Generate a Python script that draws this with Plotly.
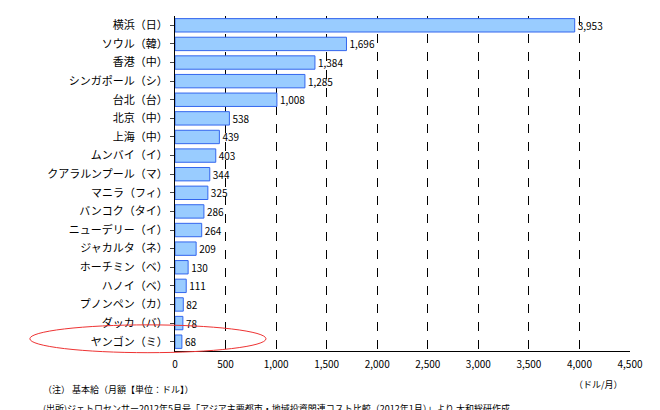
import plotly.graph_objects as go

cities = ["横浜（日）","ソウル（韓）","香港（中）","シンガポール（シ）","台北（台）","北京（中）","上海（中）",
          "ムンバイ（イ）","クアラルンプール（マ）","マニラ（フィ）","バンコク（タイ）","ニューデリー（イ）",
          "ジャカルタ（ネ）","ホーチミン（ベ）","ハノイ（ベ）","プノンペン（カ）","ダッカ（バ）","ヤンゴン（ミ）"]
wages = [3953,1696,1384,1285,1008,538,439,403,344,325,286,264,209,130,111,82,78,68]
xticks = [0,500,1000,1500,2000,2500,3000,3500,4000,4500]
xticklabels = ["0","500","1,000","1,500","2,000","2,500","3,000","3,500","4,000","4,500"]

F = "Noto Sans CJK JP"
fig = go.Figure(go.Bar(
    y=cities, x=wages, orientation="h",
    marker=dict(color="#99ccff", line=dict(color="#3366ee", width=1)),
    width=0.72,
    text=[f"{v:,}" for v in wages], textposition="outside", constraintext="none",
    textfont=dict(size=10, color="black", family=F), cliponaxis=False,
))
fig.update_layout(
    width=660, height=410, margin=dict(l=167, r=38, t=8, b=67),
    plot_bgcolor="white", paper_bgcolor="white", showlegend=False,
    font=dict(family=F, size=11, color="black"),
    xaxis=dict(range=[0,4500], tickvals=xticks, ticktext=xticklabels, showgrid=True, automargin=False,
               gridcolor="black", griddash="dash", gridwidth=1, showline=True, linecolor="black",
               tickfont=dict(size=10), zeroline=False, ticks="", ticklabelstandoff=4),
    yaxis=dict(autorange="reversed", showline=True, linecolor="black", ticks="outside", automargin=False,
               ticklen=4, tickfont=dict(size=11)),
)
fig.add_shape(type="circle", xref="paper", yref="paper", x0=-0.319, x1=0.2, y0=-0.005, y1=0.078,
              line=dict(color="#ee3333", width=1))
fig.add_annotation(xref="paper", yref="paper", x=0.93, y=-0.075, text="（ドル/月）", showarrow=False,
                   font=dict(size=9), xanchor="center", yanchor="top")
fig.add_annotation(xref="paper", yref="paper", x=-0.295, y=-0.09, text="（注） 基本給（月額【単位：ドル】）",
                   showarrow=False, font=dict(size=9), xanchor="left", yanchor="top")
fig.add_annotation(xref="paper", yref="paper", x=-0.295, y=-0.145,
                   text="(出所)ジェトロセンサー2012年5月号「アジア主要都市・地域投資関連コスト比較（2012年1月）」より 大和総研作成",
                   showarrow=False, font=dict(size=9), xanchor="left", yanchor="top")
fig.write_html("out.html")
